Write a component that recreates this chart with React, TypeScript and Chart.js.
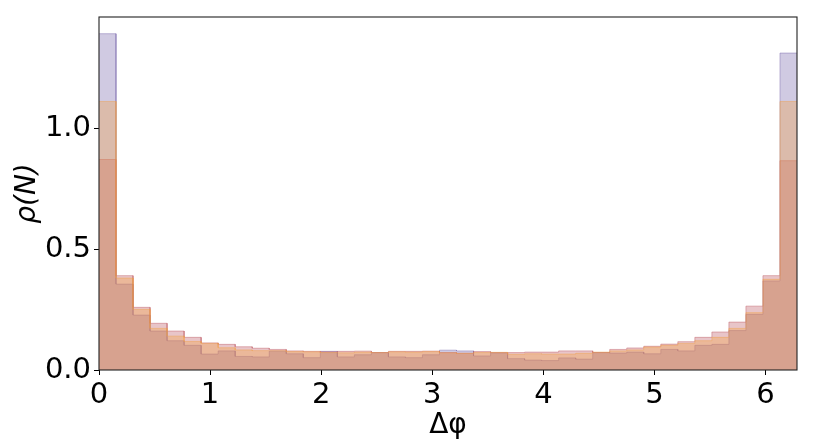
import { useEffect, useRef } from "react";
import { Chart, registerables } from "chart.js";

Chart.register(...registerables);

const X_MAX = 2 * Math.PI;
const Y_MAX = 1.459;
const xTicks = [0, 1, 2, 3, 4, 5, 6];
const yTicks = [0, 0.5, 1.0];
const xTitle = "Δφ";
const yTitle = "ρ(N)";

// histogram densities, 41 bins over [0, 2π]
const purpleVals = [1.39, 0.355, 0.227, 0.161, 0.121, 0.102, 0.066, 0.079, 0.056, 0.054, 0.078, 0.067, 0.051, 0.077, 0.054, 0.063, 0.072, 0.054, 0.051, 0.063, 0.082, 0.079, 0.058, 0.071, 0.047, 0.041, 0.039, 0.05, 0.045, 0.072, 0.07, 0.074, 0.067, 0.085, 0.079, 0.102, 0.106, 0.163, 0.23, 0.368, 1.31];
const orangeVals = [1.11, 0.38, 0.251, 0.172, 0.14, 0.118, 0.11, 0.092, 0.083, 0.08, 0.08, 0.076, 0.075, 0.072, 0.071, 0.074, 0.072, 0.075, 0.074, 0.076, 0.071, 0.069, 0.072, 0.073, 0.065, 0.067, 0.066, 0.066, 0.069, 0.074, 0.079, 0.083, 0.095, 0.102, 0.11, 0.121, 0.135, 0.172, 0.237, 0.375, 1.11];
const redVals = [0.87, 0.39, 0.259, 0.193, 0.161, 0.135, 0.112, 0.106, 0.096, 0.09, 0.085, 0.079, 0.077, 0.075, 0.077, 0.078, 0.072, 0.077, 0.077, 0.078, 0.072, 0.069, 0.076, 0.072, 0.072, 0.074, 0.074, 0.079, 0.079, 0.072, 0.085, 0.091, 0.098, 0.107, 0.117, 0.135, 0.157, 0.198, 0.264, 0.39, 0.865];

function stepPoints(vals: number[]) {
  const w = X_MAX / vals.length;
  const pts: { x: number; y: number }[] = [];
  vals.forEach((v, i) => {
    pts.push({ x: i * w, y: v });
    pts.push({ x: (i + 1) * w, y: v });
  });
  return pts;
}

const framePlugin = {
  id: "frame",
  afterDatasetsDraw(chart: any) {
    const { ctx, chartArea: a } = chart;
    ctx.save();
    ctx.strokeStyle = "#222";
    ctx.lineWidth = 1.1;
    ctx.strokeRect(a.left, a.top, a.right - a.left, a.bottom - a.top);
    ctx.restore();
  },
};

export default function App() {
  const ref = useRef<HTMLCanvasElement | null>(null);

  useEffect(() => {
    document.body.style.margin = "0";
    if (!ref.current) return;
    Chart.defaults.font.family = "'DejaVu Sans', sans-serif";
    const mk = (label: string, vals: number[], rgb: string, order: number) => ({
      label,
      data: stepPoints(vals),
      borderColor: `rgba(${rgb},0.45)`,
      backgroundColor: `rgba(${rgb},0.35)`,
      borderWidth: 1,
      pointRadius: 0,
      tension: 0,
      fill: "origin",
      order,
    });
    const chart = new Chart(ref.current, {
      type: "line",
      data: {
        datasets: [
          mk("a", purpleVals, "121,104,172", 2),
          mk("b", redVals, "190,90,100", 1),
          mk("c", orangeVals, "240,160,70", 0),
        ],
      },
      options: {
        animation: false,
        responsive: false,
        layout: { padding: { top: 17, right: 33, left: 0, bottom: 0 } },
        plugins: { legend: { display: false }, tooltip: { enabled: false } },
        scales: {
          x: {
            type: "linear",
            min: 0,
            max: X_MAX,
            afterBuildTicks: (s: any) => {
              s.ticks = xTicks.map((v) => ({ value: v }));
            },
            afterFit: (s: any) => {
              s.height = 77;
              s.paddingLeft = 0;
              s.paddingRight = 0;
            },
            ticks: {
              font: { size: 29 },
              color: "#000",
              padding: 3,
              autoSkip: false,
              maxRotation: 0,
              callback: (v: any) => String(v),
            },
            grid: { drawOnChartArea: false, drawTicks: true, tickLength: 5, color: "#000" },
            border: { display: false },
            title: { display: true, text: xTitle, font: { size: 28 }, color: "#000", padding: { top: 0, bottom: 4 } },
          },
          y: {
            type: "linear",
            min: 0,
            max: Y_MAX,
            afterBuildTicks: (s: any) => {
              s.ticks = yTicks.map((v) => ({ value: v }));
            },
            afterFit: (s: any) => {
              s.width = 99;
              s.paddingTop = 0;
              s.paddingBottom = 0;
            },
            ticks: {
              font: { size: 29 },
              color: "#000",
              padding: 3,
              callback: (v: any) => Number(v).toFixed(1),
            },
            grid: { drawOnChartArea: false, drawTicks: true, tickLength: 5, color: "#000" },
            border: { display: false },
            title: { display: true, text: yTitle, font: { size: 28, style: "italic" }, color: "#000", padding: { top: 11, bottom: 0 } },
          },
        },
      },
      plugins: [framePlugin],
    });
    return () => chart.destroy();
  }, []);

  return (
    <div style={{ position: "fixed", left: 0, top: 0, width: 830, height: 447, background: "#fff" }}>
      <canvas ref={ref} width={830} height={447} style={{ display: "block" }} />
    </div>
  );
}
